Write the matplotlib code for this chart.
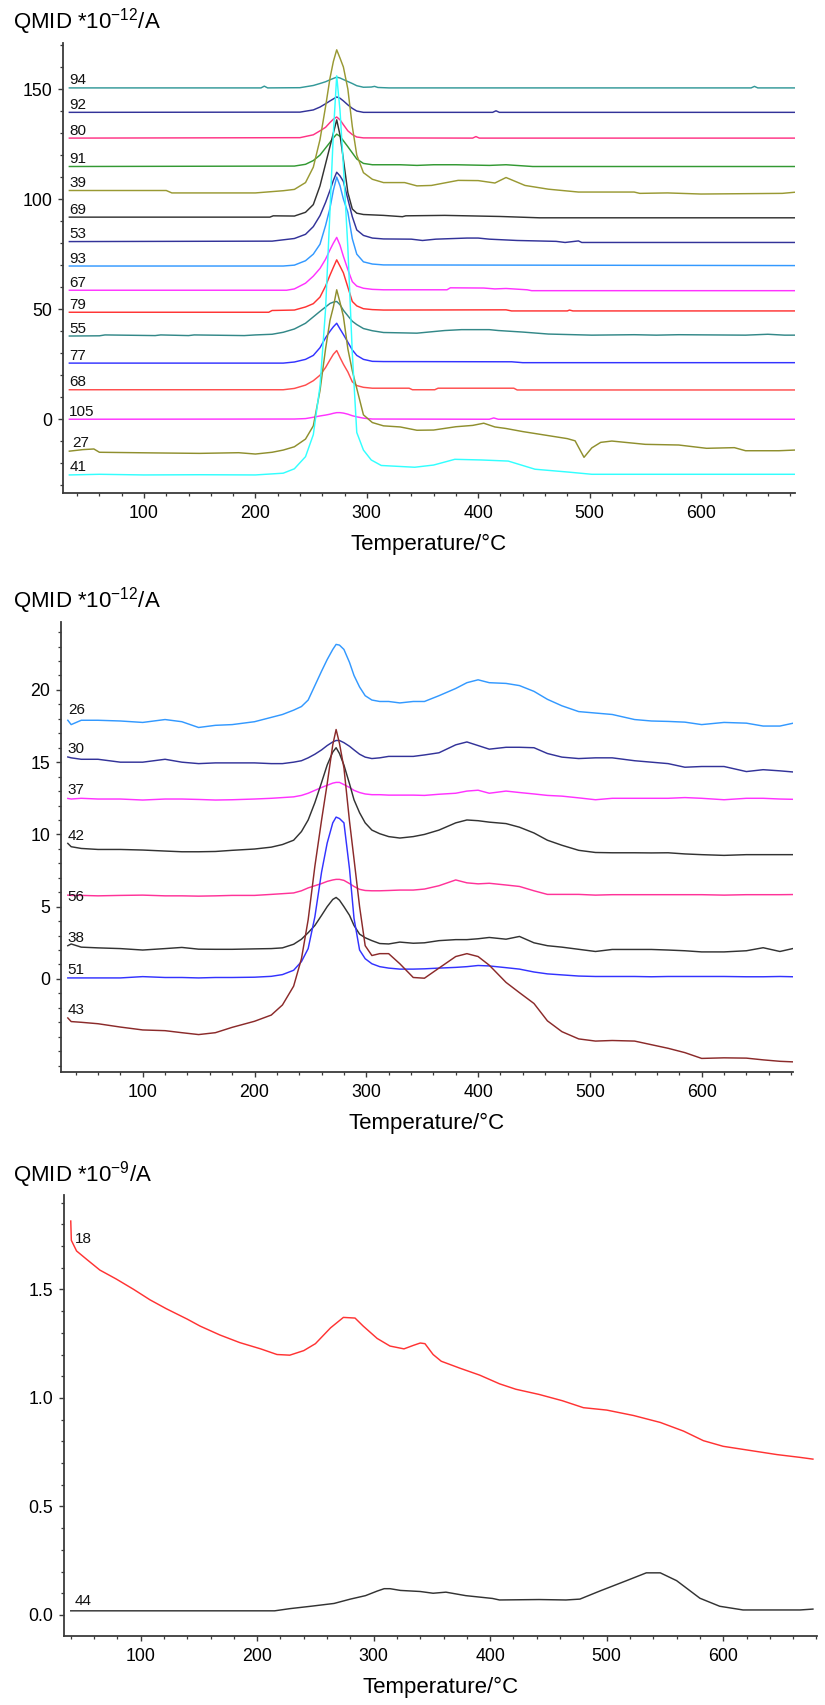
import matplotlib
matplotlib.use("Agg")
import matplotlib.pyplot as plt
from matplotlib.ticker import MultipleLocator, FixedLocator, FormatStrFormatter

plt.rcParams['font.family'] = ['Liberation Sans', 'DejaVu Sans']
plt.rcParams['mathtext.fontset'] = 'custom'
plt.rcParams['mathtext.rm'] = 'Liberation Sans'

# =========================
# PANEL 1 DATA  (QMID *1e-12 A, traces offset)
# =========================
t94 = [33, 205, 208, 211, 240, 252, 258, 263, 267, 270, 273, 276, 279, 283, 287, 291, 297, 304, 307, 310, 320, 645, 648, 651, 684]
v94 = [150.5, 150.5, 151.3, 150.5, 150.6, 151.6, 152.5, 153.3, 154.2, 154.8, 155.4, 155.0, 154.3, 153.4, 152.5, 151.5, 150.8, 150.9, 151.2, 150.7, 150.5, 150.5, 151.2, 150.5, 150.5]

t92 = [33, 240, 252, 258, 263, 267, 270, 273, 276, 279, 283, 287, 291, 297, 413, 416, 419, 684]
v92 = [139.4, 139.5, 140.5, 141.8, 143.3, 144.6, 145.5, 146.4, 145.8, 144.6, 142.8, 141.2, 140.0, 139.4, 139.4, 140.1, 139.4, 139.4]

t80 = [33, 240, 252, 258, 263, 267, 270, 273, 276, 279, 283, 287, 291, 297, 395, 398, 401, 684]
v80 = [127.7, 127.9, 129.2, 131.0, 132.6, 134.8, 136.3, 137.3, 136.0, 133.8, 131.0, 129.3, 128.2, 127.8, 127.7, 128.4, 127.7, 127.7]

t91 = [33, 235, 245, 252, 258, 263, 267, 270, 273, 276, 279, 283, 287, 291, 297, 305, 330, 345, 360, 380, 410, 425, 449, 684]
v91 = [114.8, 115.0, 115.8, 117.5, 120.0, 123.2, 125.8, 127.8, 129.5, 128.5, 126.5, 123.8, 121.0, 118.2, 116.2, 115.6, 115.6, 115.3, 115.6, 115.6, 115.3, 115.6, 114.8, 114.8]

t39 = [33, 120, 125, 200, 225, 235, 245, 252, 258, 263, 267, 270, 273, 276, 279, 283, 287, 291, 297, 305,
       315, 334, 345, 358, 382, 400, 415, 425, 442, 463, 490, 540, 545, 570, 600, 673, 684]
v39 = [103.9, 103.9, 102.8, 102.8, 103.8, 104.4, 107.5, 114.5, 127.0, 142.0, 155.0, 162.5, 167.8, 164.0, 160.0, 150.0, 133.0, 120.0, 112.0, 109.0,
       107.5, 107.5, 106.0, 106.2, 108.5, 108.4, 107.3, 109.8, 106.2, 104.5, 103.2, 103.2, 102.6, 102.8, 102.3, 102.6, 103.1]

t69 = [33, 213, 216, 235, 245, 252, 258, 263, 267, 270, 273, 276, 279, 283, 287, 291, 297, 315, 332, 335, 370, 420, 455, 684]
v69 = [91.8, 91.8, 92.4, 92.3, 94.0, 97.5, 106.0, 116.0, 124.0, 130.0, 136.0, 129.0, 118.0, 103.0, 95.5, 93.6, 93.0, 92.6, 92.0, 92.4, 92.6, 92.1, 91.5, 91.5]

t53 = [33, 215, 225, 235, 245, 252, 258, 263, 267, 270, 273, 276, 279, 283, 287, 291, 297, 305, 315, 340,
       350, 362, 390, 400, 410, 435, 470, 478, 490, 493, 684]
v53 = [80.7, 80.9, 81.5, 82.1, 84.0, 87.5, 92.5, 98.5, 104.0, 108.5, 112.2, 110.5, 108.0, 100.0, 92.0, 86.0, 83.5, 82.3, 81.9, 81.8,
       81.2, 81.8, 82.3, 82.3, 81.8, 81.2, 80.8, 80.3, 81.0, 80.3, 80.3]

t93 = [33, 225, 235, 245, 252, 258, 263, 267, 270, 273, 276, 279, 283, 287, 291, 297, 305, 315, 684]
v93 = [69.6, 69.6, 70.0, 72.0, 75.0, 79.5, 88.0, 96.0, 104.0, 110.0, 106.0, 100.0, 94.0, 82.0, 75.0, 71.5, 70.5, 70.1, 69.8]

t67 = [33, 228, 235, 245, 252, 258, 263, 267, 270, 273, 276, 279, 283, 287, 291, 297, 305, 315, 372, 375, 405, 415, 425, 444, 448, 684]
v67 = [58.6, 58.6, 59.2, 61.8, 65.0, 68.5, 72.7, 77.0, 80.0, 82.6, 79.0, 74.0, 68.0, 62.5, 60.5, 59.5, 59.0, 58.8, 58.8, 59.7, 59.6, 59.2, 59.4, 58.8, 58.4, 58.4]

t79 = [33, 212, 215, 235, 245, 252, 258, 263, 267, 270, 273, 276, 279, 283, 287, 291, 297, 305, 315, 425, 430, 480, 482, 485, 684]
v79 = [48.6, 48.6, 49.4, 49.6, 51.0, 52.5, 55.5, 60.5, 65.5, 69.0, 72.4, 69.5, 66.5, 60.0, 53.5, 51.5, 50.2, 49.8, 49.6, 49.7, 49.2, 49.2, 49.6, 49.2, 49.2]

t55 = [33, 60, 65, 110, 115, 140, 145, 190, 200, 215, 225, 235, 245, 252, 258, 263, 267, 270, 273, 276,
       279, 283, 287, 291, 297, 305, 315, 345, 370, 385, 410, 418, 440, 463, 502, 540, 560, 580, 640, 660, 675, 684]
v55 = [37.8, 37.9, 38.3, 38.0, 38.3, 38.0, 38.3, 38.0, 38.3, 38.6, 39.5, 41.0, 43.6, 46.5, 49.0, 51.0, 52.6, 53.2, 53.5, 52.0,
       49.5, 47.0, 44.5, 43.0, 41.2, 40.2, 39.4, 39.1, 40.3, 40.7, 40.7, 40.3, 39.6, 38.7, 38.2, 38.4, 38.2, 38.4, 38.2, 38.6, 38.2, 38.2]

t77 = [33, 225, 235, 245, 252, 258, 263, 267, 270, 273, 276, 279, 283, 287, 291, 297, 305, 315, 430, 440, 684]
v77 = [25.5, 25.5, 26.0, 27.2, 29.0, 32.5, 37.0, 40.0, 42.0, 43.6, 41.0, 38.5, 35.0, 31.5, 29.0, 27.2, 26.3, 26.2, 26.1, 25.7, 25.7]

t68 = [33, 225, 235, 245, 252, 258, 263, 267, 270, 273, 276, 279, 283, 287, 291, 297, 305, 315, 338, 341, 361, 364, 432, 435, 684]
v68 = [13.4, 13.4, 14.0, 15.5, 17.5, 20.0, 23.5, 27.0, 29.5, 31.2, 28.0, 25.0, 21.5, 17.0, 15.3, 14.5, 14.1, 14.1, 14.1, 13.4, 13.4, 14.1, 14.1, 13.3, 13.3]

t105 = [33, 235, 245, 252, 258, 263, 267, 270, 273, 276, 279, 283, 287, 291, 297, 305, 410, 414, 418, 684]
v105 = [0.0, 0.1, 0.3, 0.9, 1.5, 1.9, 2.3, 2.7, 3.0, 3.0, 2.8, 2.3, 1.6, 1.1, 0.5, 0.1, 0.0, 0.6, 0.0, 0.0]

t27 = [33, 45, 55, 60, 110, 150, 185, 200, 215, 225, 235, 245, 252, 258, 263, 267, 270, 273, 276, 279,
       283, 287, 291, 297, 305, 315, 330, 345, 360, 380, 395, 405, 415, 425, 440, 460, 480, 487, 495, 502,
       510, 520, 550, 580, 605, 630, 640, 670, 684]
v27 = [-14.5, -13.8, -13.5, -15.0, -15.3, -15.5, -15.2, -15.8, -15.0, -14.0, -12.5, -9.0, -3.0, 13.0, 32.0, 45.0, 51.0, 58.8, 53.0, 46.7,
       32.0, 22.0, 14.0, 2.0, -1.5, -3.0, -3.5, -5.0, -4.9, -3.4, -2.8, -1.8, -3.5, -4.2, -5.6, -7.2, -8.8, -9.8, -17.3, -13.0,
       -10.5, -9.9, -11.4, -11.7, -13.2, -12.9, -14.3, -14.3, -14.0]

t41 = [33, 60, 100, 150, 200, 225, 235, 245, 252, 258, 263, 267, 270, 273, 276, 279, 283, 287, 291, 297,
       304, 313, 343, 360, 379, 403, 427, 451, 481, 502, 684]
v41 = [-25.3, -25.0, -25.3, -25.2, -25.3, -24.5, -22.5, -17.0, -7.0, 15.0, 50.0, 95.0, 130.0, 156.0, 140.0, 115.0, 78.0, 30.0, -6.0, -14.0,
       -18.5, -21.0, -21.8, -20.8, -18.2, -18.5, -19.0, -22.7, -24.0, -25.0, -25.0]

# =========================
# PANEL 2 DATA  (QMID *1e-12 A)
# =========================
temp_p2 = [33, 36, 45, 60, 80, 100, 120, 135, 150, 165, 180, 200, 215, 225, 235, 242, 248, 254, 260, 265,
           270, 273, 276, 280, 285, 289, 294, 299, 305, 312, 320, 330, 342, 352, 365, 380, 390, 400, 410, 425,
           437, 450, 462, 475, 490, 505, 520, 540, 555, 570, 585, 600, 620, 640, 655, 670, 682]
m26 = [17.9, 17.6, 17.9, 17.9, 17.85, 17.75, 17.95, 17.8, 17.4, 17.55, 17.6, 17.8, 18.1, 18.3, 18.6, 18.85, 19.3, 20.3, 21.3, 22.1,
       22.8, 23.15, 23.1, 22.8, 21.9, 21.0, 20.2, 19.6, 19.3, 19.2, 19.2, 19.1, 19.2, 19.2, 19.6, 20.1, 20.5, 20.7, 20.5, 20.45,
       20.3, 19.9, 19.35, 18.9, 18.5, 18.4, 18.3, 17.95, 17.85, 17.82, 17.77, 17.6, 17.75, 17.7, 17.5, 17.5, 17.7]
m30 = [15.36, 15.3, 15.2, 15.2, 15.0, 15.0, 15.2, 15.0, 14.9, 14.95, 14.95, 14.95, 14.9, 14.9, 15.0, 15.1, 15.3, 15.55, 15.85, 16.15,
       16.4, 16.5, 16.5, 16.35, 16.1, 15.85, 15.55, 15.35, 15.25, 15.3, 15.4, 15.4, 15.4, 15.5, 15.65, 16.2, 16.4, 16.15, 15.9, 16.03,
       16.03, 16.0, 15.6, 15.35, 15.25, 15.3, 15.3, 15.1, 15.0, 14.9, 14.65, 14.7, 14.7, 14.35, 14.48, 14.4, 14.32]
m37 = [12.49, 12.45, 12.5, 12.45, 12.45, 12.38, 12.45, 12.45, 12.42, 12.38, 12.4, 12.45, 12.5, 12.55, 12.6, 12.7, 12.85, 13.05, 13.25, 13.4,
       13.55, 13.6, 13.6, 13.45, 13.25, 13.05, 12.9, 12.8, 12.75, 12.75, 12.72, 12.72, 12.72, 12.7, 12.78, 12.85, 13.0, 13.06, 12.85, 13.0,
       12.9, 12.8, 12.7, 12.65, 12.53, 12.4, 12.5, 12.5, 12.5, 12.5, 12.55, 12.5, 12.4, 12.5, 12.5, 12.45, 12.43]
m42 = [9.38, 9.15, 9.03, 8.96, 8.96, 8.92, 8.85, 8.8, 8.8, 8.82, 8.9, 8.99, 9.12, 9.3, 9.6, 10.2, 11.0, 12.2, 13.6, 14.8,
       15.7, 16.0, 15.6, 14.8, 13.5, 12.4, 11.5, 10.8, 10.3, 10.05, 9.85, 9.75, 9.85, 10.0, 10.3, 10.8, 11.0, 10.95, 10.85, 10.75,
       10.5, 10.1, 9.6, 9.25, 8.9, 8.75, 8.73, 8.73, 8.72, 8.73, 8.65, 8.6, 8.55, 8.6, 8.6, 8.6, 8.6]
m56 = [5.8, 5.78, 5.78, 5.75, 5.78, 5.8, 5.75, 5.75, 5.73, 5.75, 5.78, 5.78, 5.85, 5.9, 5.95, 6.1, 6.3, 6.45, 6.6, 6.75,
       6.85, 6.89, 6.89, 6.82, 6.6, 6.4, 6.2, 6.12, 6.1, 6.1, 6.12, 6.15, 6.15, 6.22, 6.45, 6.85, 6.65, 6.58, 6.62, 6.5,
       6.4, 6.1, 5.85, 5.85, 5.85, 5.8, 5.83, 5.83, 5.83, 5.83, 5.83, 5.83, 5.8, 5.83, 5.83, 5.83, 5.84]
m38 = [2.3, 2.42, 2.2, 2.15, 2.1, 2.0, 2.1, 2.18, 2.06, 2.05, 2.05, 2.08, 2.1, 2.15, 2.4, 2.75, 3.2, 3.7, 4.4, 5.0,
       5.5, 5.64, 5.45, 5.0, 4.4, 3.7, 3.1, 2.85, 2.65, 2.45, 2.42, 2.55, 2.47, 2.5, 2.65, 2.72, 2.72, 2.78, 2.87, 2.75,
       2.94, 2.5, 2.3, 2.2, 2.05, 1.9, 2.04, 2.04, 2.04, 2.0, 1.95, 1.87, 1.87, 1.95, 2.16, 1.9, 2.11]
m51 = [0.07, 0.07, 0.07, 0.07, 0.07, 0.16, 0.1, 0.1, 0.07, 0.1, 0.1, 0.12, 0.18, 0.3, 0.6, 1.2, 2.1, 4.3, 7.4, 9.4,
       10.8, 11.2, 11.1, 10.8, 7.6, 4.2, 2.0, 1.4, 1.05, 0.85, 0.75, 0.68, 0.68, 0.7, 0.75, 0.8, 0.85, 0.93, 0.9, 0.78,
       0.68, 0.48, 0.35, 0.28, 0.2, 0.17, 0.17, 0.17, 0.15, 0.17, 0.17, 0.17, 0.17, 0.15, 0.15, 0.17, 0.15]
m43 = [-2.7, -2.95, -3.0, -3.1, -3.33, -3.53, -3.58, -3.72, -3.85, -3.72, -3.35, -2.93, -2.5, -1.8, -0.5, 1.4, 4.1, 7.8, 11.0, 13.5,
       16.2, 17.26, 16.3, 14.6, 10.9, 8.3, 5.0, 2.3, 1.62, 1.75, 1.75, 1.05, 0.1, 0.05, 0.75, 1.55, 1.75, 1.55, 0.95, -0.24,
       -0.95, -1.7, -2.9, -3.65, -4.15, -4.3, -4.26, -4.3, -4.55, -4.8, -5.1, -5.5, -5.46, -5.48, -5.6, -5.7, -5.74]

# =========================
# PANEL 3 DATA  (QMID *1e-9 A)
# =========================
t18 = [40, 40.5, 45, 54, 65, 79, 94, 108, 122, 140, 151, 168, 185, 203, 217, 228, 240, 250, 263, 274,
       284, 291, 303, 314, 326, 334, 340, 344, 351, 358, 374, 391, 408, 422, 442, 462, 480, 500, 523, 546,
       566, 583, 600, 623, 646, 666, 677]
v18 = [1.815, 1.726, 1.677, 1.637, 1.589, 1.548, 1.5, 1.452, 1.411, 1.363, 1.331, 1.29, 1.255, 1.226, 1.2, 1.197, 1.218, 1.25, 1.323, 1.371,
       1.368, 1.331, 1.274, 1.239, 1.226, 1.242, 1.253, 1.25, 1.2, 1.169, 1.137, 1.105, 1.065, 1.04, 1.016, 0.987, 0.955, 0.944, 0.919, 0.887,
       0.847, 0.803, 0.777, 0.758, 0.739, 0.726, 0.718]

t44 = [40, 215, 228, 246, 266, 280, 293, 303, 309, 314, 323, 340, 351, 362, 379, 402, 408, 442, 465, 477,
       494, 517, 534, 546, 560, 580, 597, 617, 666, 677]
v44 = [0.019, 0.019, 0.029, 0.04, 0.053, 0.073, 0.089, 0.11, 0.121, 0.121, 0.113, 0.108, 0.1, 0.105, 0.089, 0.076, 0.069, 0.071, 0.069, 0.073,
       0.11, 0.158, 0.194, 0.194, 0.158, 0.077, 0.04, 0.023, 0.023, 0.027]

# =========================
# TRACE LISTS (label, x, y, colour)
# =========================
traces_p1 = [
    ("94", t94, v94, "#339999"), ("92", t92, v92, "#333399"), ("80", t80, v80, "#ff3385"),
    ("91", t91, v91, "#339933"), ("39", t39, v39, "#999933"), ("69", t69, v69, "#333333"),
    ("53", t53, v53, "#333399"), ("93", t93, v93, "#3399ff"), ("67", t67, v67, "#ff33ff"),
    ("79", t79, v79, "#ff3333"), ("55", t55, v55, "#338888"), ("77", t77, v77, "#3333ff"),
    ("68", t68, v68, "#ff4d4d"), ("105", t105, v105, "#ff33ff"), ("27", t27, v27, "#8f8f2e"),
    ("41", t41, v41, "#33ffff"),
]
traces_p2 = [
    ("26", m26, "#3399ff"), ("30", m30, "#333399"), ("37", m37, "#ff33ff"), ("42", m42, "#333333"),
    ("56", m56, "#ff3399"), ("38", m38, "#333333"), ("51", m51, "#3333ff"), ("43", m43, "#8b2a2a"),
]
traces_p3 = [("18", t18, v18, "#ff3333"), ("44", t44, v44, "#333333")]

label_offsets = {"27": (2, 3), "56": (0, -4), "18": (3, -15.5), "44": (3, 4.5), "26": (0, 4.5), "37": (0, 3.5)}

AXIS_COLOR = "#3a3a3a"
W, H = 825, 1705

fig = plt.figure(figsize=(W / 100, H / 100), dpi=100)


def add_panel(left, right, top, bottom):
    return fig.add_axes([left / W, 1 - bottom / H, (right - left) / W, (bottom - top) / H])


def style_axes(ax, xlim, ylim, yticks, yminor, yfmt):
    ax.set_xlim(*xlim)
    ax.set_ylim(*ylim)
    for side in ("top", "right"):
        ax.spines[side].set_visible(False)
    for side in ("left", "bottom"):
        ax.spines[side].set_color(AXIS_COLOR)
        ax.spines[side].set_linewidth(1.3)
    ax.xaxis.set_major_locator(MultipleLocator(100))
    ax.xaxis.set_minor_locator(MultipleLocator(20))
    ax.yaxis.set_major_locator(FixedLocator(yticks))
    ax.yaxis.set_minor_locator(MultipleLocator(yminor))
    ax.yaxis.set_major_formatter(FormatStrFormatter(yfmt))
    ax.tick_params(which="major", length=3.6, width=1.0, color=AXIS_COLOR, labelsize=12.8, pad=4)
    ax.tick_params(axis="x", which="major", pad=5)
    ax.tick_params(which="minor", length=2.2, width=0.9, color=AXIS_COLOR)
    ax.set_xlabel("Temperature/°C", fontsize=16, labelpad=8.5)


def label_trace(ax, name, x0, y0):
    dx, dy = label_offsets.get(name, (0, 2.5))
    ax.annotate(name, xy=(x0, y0), xytext=(dx, dy), textcoords="offset points",
                ha="left", va="baseline", fontsize=11, color="#111111")


# ---- panel 1
ax1 = add_panel(63, 795, 43, 493)
for name, t, v, c in traces_p1:
    ax1.plot(t, v, color=c, lw=1.05)
    label_trace(ax1, name, t[0], v[0])
style_axes(ax1, (27.3, 684.4), (-33.5, 170.9), [0, 50, 100, 150], 10, "%d")
fig.text(13 / W, 1 - 22 / H, "QMID *10$^{\\mathregular{-12}}$/A", fontsize=16, va="center", ha="left")

# ---- panel 2
ax2 = add_panel(61, 793, 622, 1072)
for name, v, c in traces_p2:
    ax2.plot(temp_p2, v, color=c, lw=1.05)
    label_trace(ax2, name, temp_p2[0], v[0])
style_axes(ax2, (26.9, 681.7), (-6.44, 24.7), [0, 5, 10, 15, 20], 1, "%d")
fig.text(13 / W, 1 - 601 / H, "QMID *10$^{\\mathregular{-12}}$/A", fontsize=16, va="center", ha="left")

# ---- panel 3
ax3 = add_panel(64, 817, 1195, 1636)
for name, t, v, c in traces_p3:
    ax3.plot(t, v, color=c, lw=1.05)
    label_trace(ax3, name, t[0], v[0])
style_axes(ax3, (34.2, 680.5), (-0.097, 1.935), [0.0, 0.5, 1.0, 1.5], 0.1, "%.1f")
fig.text(13 / W, 1 - 1175 / H, "QMID *10$^{\\mathregular{-9}}$/A", fontsize=16, va="center", ha="left")

fig.savefig("out.png", dpi=100, facecolor="white")
